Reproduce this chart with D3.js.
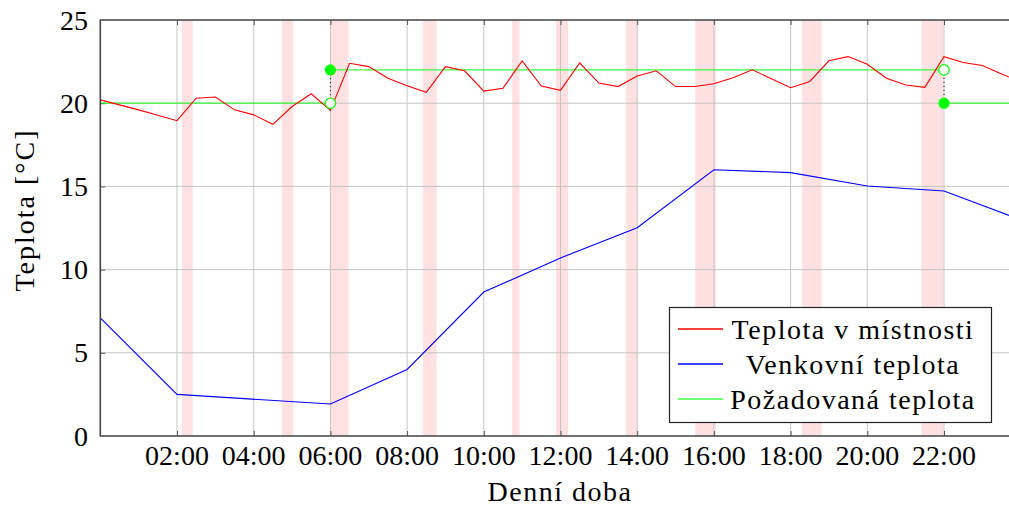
<!DOCTYPE html>
<html>
<head>
<meta charset="utf-8">
<script src="https://cdn.jsdelivr.net/npm/d3@7"></script>
<style>
body { margin: 0; background: #fff; }
svg { display: block; }
</style>
</head>
<body>
<svg id="chart" width="1009" height="506"></svg>
<script>
// room temperature, sampled every half hour (hours, degC)
const roomHours = d3.range(0, 24.5, 0.5);
const roomTemp = [20.2, 19.9, 19.6, 19.28, 18.95, 20.3, 20.37, 19.6, 19.3, 18.73,
  19.8, 20.57, 19.57, 22.4, 22.2, 21.5, 21.05, 20.65, 22.2, 21.95,
  20.73, 20.9, 22.54, 21.03, 20.77, 22.42, 21.21, 21.0, 21.63, 21.95,
  21.0, 21.0, 21.17, 21.53, 22.01, 21.47, 20.93, 21.31, 22.55, 22.8,
  22.34, 21.5, 21.09, 20.95, 22.8, 22.45, 22.27, 21.75, 21.3];

// outdoor temperature
const outHours = [0, 2, 6, 8, 10, 12, 14, 16, 18, 20, 22, 24];
const outTemp = [7.1, 2.5, 1.92, 4.0, 8.65, 10.7, 12.52, 16.0, 15.83, 15.02, 14.72, 13.0];

// requested temperature (step changes)
const setHours = [0, 6, 22, 24];
const setTemp = [20, 22, 20, 20];

// heating periods (start, end in hours)
const heating = [[2.13, 2.41], [4.73, 5.03], [5.99, 6.47], [8.41, 8.77], [10.74, 10.93],
  [11.88, 12.2], [13.71, 14.0], [15.51, 16.05], [18.3, 18.81], [21.41, 21.98]];

const xTicks = d3.range(2, 24, 2);
const yTicks = [0, 5, 10, 15, 20, 25];
const legendNames = ["Teplota v místnosti", "Venkovní teplota", "Požadovaná teplota"];
const legendColors = ["#ff0000", "#0000ff", "#00ff00"];

const FONT = "'Liberation Serif', 'DejaVu Serif', serif";
const svg = d3.select("#chart");
const x0 = 100.3, x1 = 1020.7, y0 = 20, y1 = 436;

const x = d3.scaleLinear().domain([0, 24]).range([x0, x1]);
const y = d3.scaleLinear().domain([0, 25]).range([y1, y0]);

function fmt(h) {
    return (h < 10 ? "0" : "") + h + ":00";
}

// heating bands
svg.append("g").selectAll("rect")
    .data(heating).enter().append("rect")
    .attr("x", d => x(d[0]))
    .attr("width", d => x(d[1]) - x(d[0]))
    .attr("y", y0)
    .attr("height", y1 - y0)
    .attr("fill", "#ffe1e1");

// grid
const grid = svg.append("g").attr("stroke", "#bdbdbd").attr("stroke-width", 1).attr("opacity", 0.85);
grid.selectAll("line.v").data(xTicks).enter().append("line")
    .attr("x1", d => x(d)).attr("x2", d => x(d))
    .attr("y1", y0).attr("y2", y1);
grid.selectAll("line.h").data(yTicks.slice(1, -1)).enter().append("line")
    .attr("y1", d => y(d)).attr("y2", d => y(d))
    .attr("x1", x0).attr("x2", x1);

// axes with inward ticks
svg.append("g").attr("transform", `translate(0,${y1})`)
    .call(d3.axisTop(x).tickValues(xTicks).tickSize(5).tickFormat(""))
    .call(g => g.select(".domain").remove());
svg.append("g").attr("transform", `translate(0,${y0})`)
    .call(d3.axisBottom(x).tickValues(xTicks).tickSize(5).tickFormat(""))
    .call(g => g.select(".domain").remove());
svg.append("g").attr("transform", `translate(${x0},0)`)
    .call(d3.axisRight(y).tickValues(yTicks.slice(1, -1)).tickSize(5).tickFormat(""))
    .call(g => g.select(".domain").remove());
svg.selectAll(".tick line").attr("stroke", "#555");

// tick labels
svg.append("g").selectAll("text").data(xTicks).enter().append("text")
    .attr("x", d => x(d)).attr("y", 465)
    .attr("text-anchor", "middle").attr("font-size", 28).attr("font-family", FONT)
    .text(fmt);
svg.append("g").selectAll("text").data(yTicks).enter().append("text")
    .attr("x", 88).attr("y", d => y(d) + 9.5)
    .attr("text-anchor", "end").attr("font-size", 28).attr("font-family", FONT)
    .text(d => d);

// lines
const line = d3.line().x(d => x(d[0])).y(d => y(d[1]));
const plot = svg.append("g").attr("fill", "none");

// requested temperature: horizontal pieces only, jumps shown by marks
const steps = setTemp.slice(0, -1).map((t, i) => [[setHours[i], t], [setHours[i + 1], t]]);
plot.selectAll("path.set").data(steps).enter().append("path")
    .attr("d", line)
    .attr("stroke", "#00ff00").attr("stroke-width", 1.3).attr("stroke-opacity", 0.75);

plot.append("path")
    .datum(outHours.map((h, i) => [h, outTemp[i]]))
    .attr("d", line)
    .attr("stroke", "#0000ff").attr("stroke-width", 1.1);

plot.append("path")
    .datum(roomHours.map((h, i) => [h, roomTemp[i]]))
    .attr("d", line)
    .attr("stroke", "#ff0000").attr("stroke-width", 1.1);

// jump marks of the requested temperature
const jumps = setHours.slice(1, -1).map((h, i) => ({ h: h, from: setTemp[i], to: setTemp[i + 1] }));
const jm = svg.append("g");
jm.selectAll("line").data(jumps).enter().append("line")
    .attr("x1", d => x(d.h)).attr("x2", d => x(d.h))
    .attr("y1", d => y(d.from)).attr("y2", d => y(d.to))
    .attr("stroke", "#000").attr("stroke-width", 1).attr("stroke-dasharray", "1,3");
jm.selectAll("circle.open").data(jumps).enter().append("circle")
    .attr("cx", d => x(d.h)).attr("cy", d => y(d.from)).attr("r", 5.2)
    .attr("fill", "#fff").attr("stroke", "#00ff00").attr("stroke-width", 1.2);
jm.selectAll("circle.fill").data(jumps).enter().append("circle")
    .attr("cx", d => x(d.h)).attr("cy", d => y(d.to)).attr("r", 5.6)
    .attr("fill", "#00ff00");

// frame
svg.append("path")
    .attr("d", `M${x1},${y0}H${x0}V${y1}H${x1}`)
    .attr("fill", "none").attr("stroke", "#444").attr("stroke-width", 1.6);

// axis titles
svg.append("text").attr("x", 560).attr("y", 501)
    .attr("text-anchor", "middle").attr("font-size", 28).attr("font-family", FONT)
    .attr("letter-spacing", 1.5)
    .text("Denní doba");
svg.append("text")
    .attr("transform", "translate(34,210) rotate(-90)")
    .attr("text-anchor", "middle").attr("font-size", 28).attr("font-family", FONT)
    .attr("letter-spacing", 2)
    .text("Teplota [°C]");

// legend
const lg = svg.append("g");
lg.append("rect").attr("x", 669.5).attr("y", 307.5).attr("width", 322).attr("height", 115)
    .attr("fill", "#fff").attr("stroke", "#222").attr("stroke-width", 1.2);
legendNames.forEach(function(name, i) {
    const ry = 329 + i * 35;
    lg.append("line").attr("x1", 678).attr("x2", 723).attr("y1", ry).attr("y2", ry)
        .attr("stroke", legendColors[i]).attr("stroke-width", 1.3)
        .attr("stroke-opacity", i == 2 ? 0.75 : 1);
    lg.append("text").attr("x", 853).attr("y", ry + 10)
        .attr("text-anchor", "middle").attr("font-size", 28).attr("font-family", FONT)
        .attr("letter-spacing", 1.5)
        .text(name);
});
</script>
</body>
</html>
